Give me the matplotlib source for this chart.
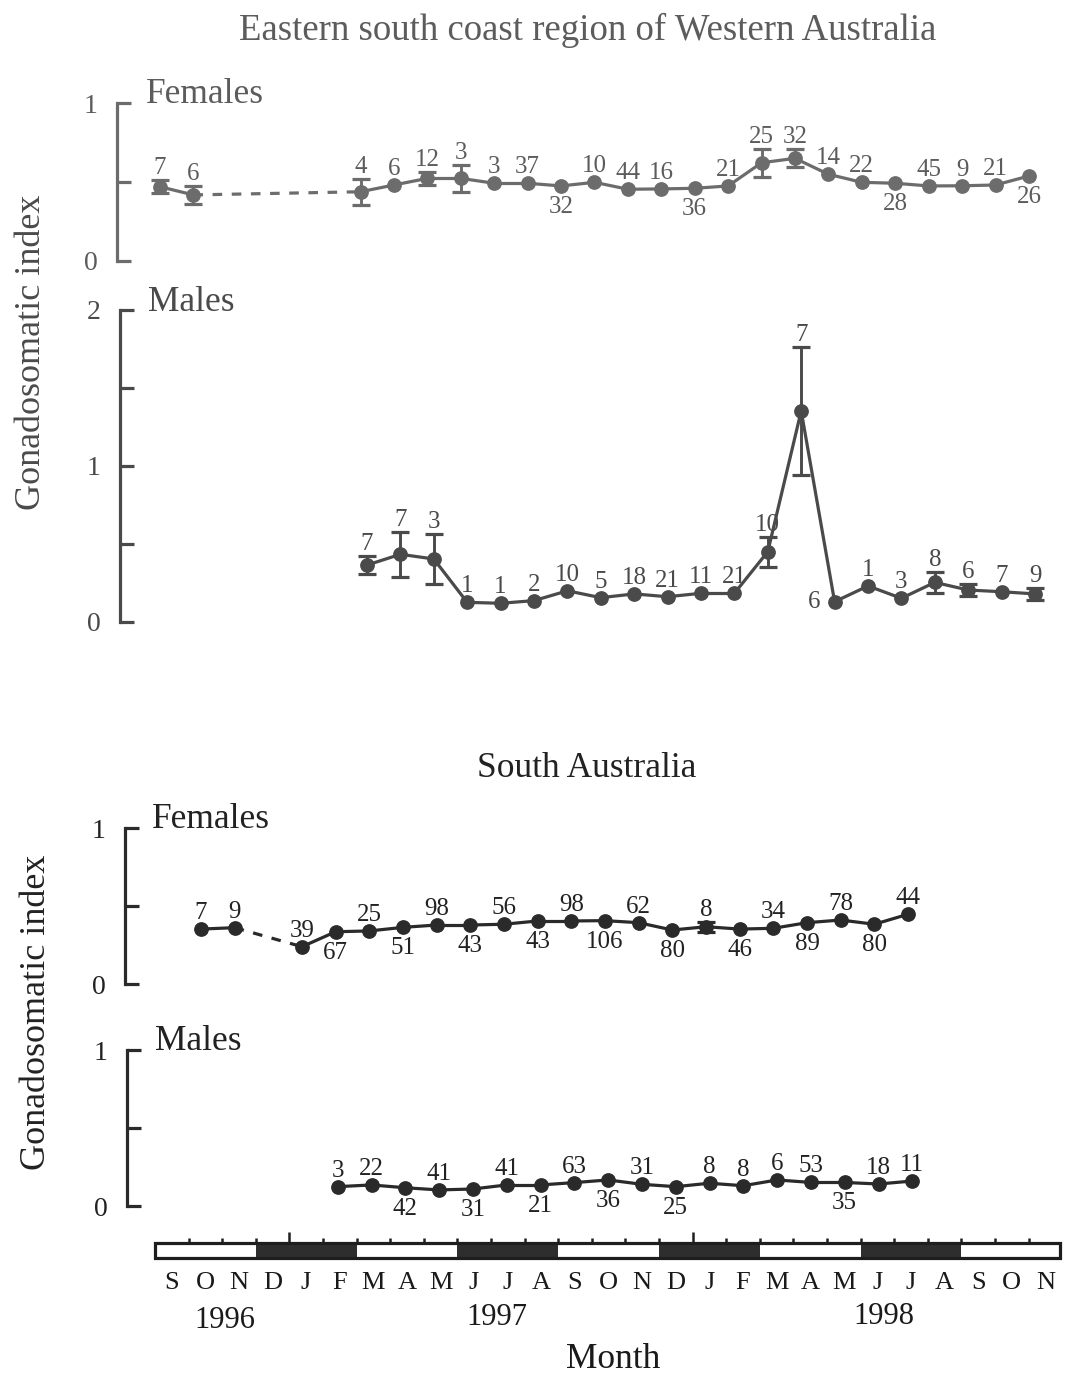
import matplotlib
matplotlib.use("Agg")
import matplotlib.pyplot as plt
from matplotlib.patches import Rectangle

plt.rcParams["font.family"] = ["Liberation Serif", "DejaVu Serif"]

# ---------------------------------------------------------------- data
month_labels = ["S", "O", "N", "D", "J", "F", "M", "A", "M", "J", "J", "A", "S",
                "O", "N", "D", "J", "F", "M", "A", "M", "J", "J", "A", "S", "O", "N"]
year_labels = ["1996", "1997", "1998"]
# seasons in three-month blocks starting with spring (Sep-Nov 1996)
season_shade = ["white", "black", "white", "black", "white",
                "black", "white", "black", "white"]

# Eastern south coast of Western Australia - females
wa_f_month = [0, 1, 6, 7, 8, 9, 10, 11, 12, 13, 14, 15, 16, 17, 18, 19, 20, 21, 22, 23, 24, 25, 26]
wa_f_gsi = [0.471, 0.419, 0.439, 0.482, 0.524, 0.524, 0.493, 0.493, 0.476, 0.499, 0.455, 0.457,
            0.461, 0.476, 0.623, 0.651, 0.550, 0.499, 0.493, 0.476, 0.477, 0.482, 0.539]
wa_f_se = [0.041, 0.056, 0.083, 0.0, 0.039, 0.087, 0.0, 0.0, 0.0, 0.0, 0.0, 0.0,
           0.0, 0.0, 0.090, 0.058, 0.0, 0.0, 0.0, 0.0, 0.0, 0.0, 0.0]
wa_f_n = [7, 6, 4, 6, 12, 3, 3, 37, 32, 10, 44, 16, 36, 21, 25, 32, 14, 22, 28, 45, 9, 21, 26]
wa_f_pos = ["a", "a", "a", "a", "a", "a", "a", "a", "b", "a", "a", "a",
            "b", "a", "a", "a", "a", "a", "b", "a", "a", "a", "b"]

# Eastern south coast of Western Australia - males
wa_m_month = [6, 7, 8, 9, 10, 11, 12, 13, 14, 15, 16, 17, 18, 19, 20, 21, 22, 23, 24, 25, 26]
wa_m_gsi = [0.365, 0.434, 0.404, 0.126, 0.120, 0.137, 0.200, 0.156, 0.180, 0.162, 0.184,
            0.184, 0.451, 1.353, 0.130, 0.231, 0.152, 0.254, 0.205, 0.194, 0.180]
wa_m_se = [0.057, 0.144, 0.160, 0.0, 0.0, 0.0, 0.0, 0.0, 0.0, 0.0, 0.0,
           0.0, 0.096, 0.409, 0.0, 0.0, 0.0, 0.065, 0.037, 0.0, 0.040]
wa_m_n = [7, 7, 3, 1, 1, 2, 10, 5, 18, 21, 11, 21, 10, 7, 6, 1, 3, 8, 6, 7, 9]
wa_m_pos = ["a"] * 14 + ["l"] + ["a"] * 6

# South Australia - females
sa_f_month = [1, 2, 4, 5, 6, 7, 8, 9, 10, 11, 12, 13, 14, 15, 16, 17, 18, 19, 20, 21, 22]
sa_f_gsi = [0.354, 0.363, 0.241, 0.337, 0.342, 0.365, 0.380, 0.380, 0.385, 0.406, 0.406,
            0.408, 0.395, 0.348, 0.369, 0.354, 0.359, 0.395, 0.412, 0.385, 0.449]
sa_f_se = [0.0] * 14 + [0.032] + [0.0] * 6
sa_f_n = [7, 9, 39, 67, 25, 51, 98, 43, 56, 43, 98, 106, 62, 80, 8, 46, 34, 89, 78, 80, 44]
sa_f_pos = ["a", "a", "a", "b", "a", "b", "a", "b", "a", "b", "a",
            "b", "a", "b", "a", "b", "a", "b", "a", "b", "a"]

# South Australia - males
sa_m_month = [5, 6, 7, 8, 9, 10, 11, 12, 13, 14, 15, 16, 17, 18, 19, 20, 21, 22]
sa_m_gsi = [0.124, 0.135, 0.117, 0.103, 0.109, 0.135, 0.135, 0.150, 0.167,
            0.139, 0.124, 0.146, 0.130, 0.167, 0.151, 0.151, 0.141, 0.160]
sa_m_se = [0.0] * 18
sa_m_n = [3, 22, 42, 41, 31, 41, 21, 63, 36, 31, 25, 8, 8, 6, 53, 35, 18, 11]
sa_m_pos = ["a", "a", "b", "a", "b", "a", "b", "a", "b", "a", "b",
            "a", "a", "a", "a", "b", "a", "a"]

# ---------------------------------------------------------------- layout
W, H, DPI = 1067, 1375, 100
PT = 72.0 / DPI          # points per pixel
RIGHT = 1062
NUM_FS = 18
NAME_FS = 25.5

fig = plt.figure(figsize=(W / DPI, H / DPI), dpi=DPI)
fig.patch.set_facecolor("white")


def px_rect(left, right, top, bottom):
    return [left / W, 1 - bottom / H, (right - left) / W, (bottom - top) / H]


def panel(spine_x, k0, step, top_px, bottom_px, ymax, yticks, yticklabels,
          months, gsi, se, n, pos, color, text_color, name, name_xy):
    ax = fig.add_axes(px_rect(spine_x, RIGHT, top_px, bottom_px))
    ax.set_xlim((spine_x - k0) / step, (RIGHT - k0) / step)
    ax.set_ylim(0, ymax)
    ax.patch.set_visible(False)
    for s in ("top", "right", "bottom"):
        ax.spines[s].set_visible(False)
    ax.spines["left"].set_color(color)
    ax.spines["left"].set_linewidth(2.3)
    ax.set_xticks([])
    ax.set_yticks(yticks)
    ax.set_yticklabels(yticklabels)
    ax.tick_params(axis="y", direction="in", length=10, width=2.3, color=color,
                   labelsize=20, labelcolor=text_color, pad=14)

    # connecting lines: solid between consecutive months, dashed across gaps
    for i in range(len(months) - 1):
        gap = months[i + 1] - months[i] > 1
        ax.plot(months[i:i + 2], gsi[i:i + 2], color=color, lw=2.3,
                ls=(0, (3.0, 3.0)) if gap else "-", solid_capstyle="butt", zorder=2)

    ax.plot(months, gsi, "o", ms=9.6, mfc=color, mec=color, zorder=3)

    em = [m for m, e in zip(months, se) if e > 0]
    eg = [g for g, e in zip(gsi, se) if e > 0]
    ee = [e for e in se if e > 0]
    if ee:
        ax.errorbar(em, eg, yerr=ee, fmt="none", ecolor=color, elinewidth=2.1,
                    capsize=6.8, capthick=2.3, zorder=3)

    for m, g, e, c, p in zip(months, gsi, se, n, pos):
        if p == "a":
            dy = (6 if e > 0 else 10) * PT
            ax.annotate(str(c), (m, g + e), xytext=(0, dy), textcoords="offset points",
                        ha="center", va="baseline", fontsize=NUM_FS, color=text_color)
        elif p == "b":
            ax.annotate(str(c), (m, g), xytext=(0, -27 * PT), textcoords="offset points",
                        ha="center", va="baseline", fontsize=NUM_FS, color=text_color)
        else:
            ax.annotate(str(c), (m, g), xytext=(-20 * PT, 0), textcoords="offset points",
                        ha="center", va="center", fontsize=NUM_FS, color=text_color)

    fig.text(name_xy[0] / W, 1 - name_xy[1] / H, name, ha="left", va="baseline",
             fontsize=NAME_FS, color=text_color)
    return ax


# Western Australia panels
panel(117, 160.0, 33.42, 103.3, 261.0, 1, [0, 0.5, 1], ["0", "", "1"],
      wa_f_month, wa_f_gsi, wa_f_se, wa_f_n, wa_f_pos,
      "#6c6c6c", "#5c5c5c", "Females", (146, 103))
panel(120, 166.6, 33.4, 310.0, 622.0, 2, [0, 0.5, 1, 1.5, 2], ["0", "", "1", "", "2"],
      wa_m_month, wa_m_gsi, wa_m_se, wa_m_n, wa_m_pos,
      "#4a4a4a", "#4a4a4a", "Males", (148, 311))

# South Australia panels
panel(125, 167.3, 33.67, 828.3, 984.3, 1, [0, 0.5, 1], ["0", "", "1"],
      sa_f_month, sa_f_gsi, sa_f_se, sa_f_n, sa_f_pos,
      "#2a2a2a", "#222222", "Females", (152, 828))
panel(127, 168.7, 33.8, 1050.0, 1206.0, 1, [0, 0.5, 1], ["0", "", "1"],
      sa_m_month, sa_m_gsi, sa_m_se, sa_m_n, sa_m_pos,
      "#2a2a2a", "#222222", "Males", (155, 1050))

# titles and axis labels
fig.text(588 / W, 1 - 40 / H, "Eastern south coast region of Western Australia",
         ha="center", va="baseline", fontsize=26.5, color="#5c5c5c")
fig.text(587 / W, 1 - 777 / H, "South Australia", ha="center", va="baseline",
         fontsize=25.5, color="#222222")
fig.text(32 / W, 1 - 352 / H, "Gonadosomatic index", rotation=90, ha="center",
         va="center", fontsize=26, color="#4a4a4a")
fig.text(37 / W, 1 - 1012 / H, "Gonadosomatic index", rotation=90, ha="center",
         va="center", fontsize=26, color="#222222")

# season bar with month ticks and month / year labels
K0, STEP = 171.7, 33.6
axb = fig.add_axes(px_rect(150, 1067, 1225, 1380))
axb.set_xlim((150 - K0) / STEP, (1067 - K0) / STEP)
axb.set_ylim(1380, 1225)
axb.axis("off")

BAR_TOP, BAR_BOT = 1243, 1258
for i, shade in enumerate(season_shade):
    x0 = -0.5 + 3 * i
    x1 = min(x0 + 3, 26.45)
    axb.add_patch(Rectangle((x0, BAR_TOP), x1 - x0, BAR_BOT - BAR_TOP,
                            facecolor="#2e2e2e" if shade == "black" else "white",
                            edgecolor="none", zorder=1))
axb.add_patch(Rectangle((-0.5, BAR_TOP), 26.95, BAR_BOT - BAR_TOP, facecolor="none",
                        edgecolor="#1e1e1e", lw=2.3, zorder=2))
for b in range(1, 27):
    xb = b - 0.5
    tall = month_labels[b] == "J" and month_labels[b - 1] == "D"
    axb.plot([xb, xb], [BAR_TOP, BAR_TOP - (11 if tall else 5)], color="#1e1e1e",
             lw=1.8, solid_capstyle="butt", zorder=2)

for k, lab in enumerate(month_labels):
    axb.text(k, 1289, lab, ha="center", va="baseline", fontsize=19, color="#1a1a1a")

year_x = [1.59, 9.68, 21.2]
year_base = [1328, 1325, 1324]
for lab, x, yb in zip(year_labels, year_x, year_base):
    axb.text(x, yb, lab, ha="center", va="baseline", fontsize=22, color="#1a1a1a")

axb.text((613 - K0) / STEP, 1368, "Month", ha="center", va="baseline",
         fontsize=25.5, color="#1a1a1a")

fig.savefig("out.png", dpi=DPI, facecolor="white")
